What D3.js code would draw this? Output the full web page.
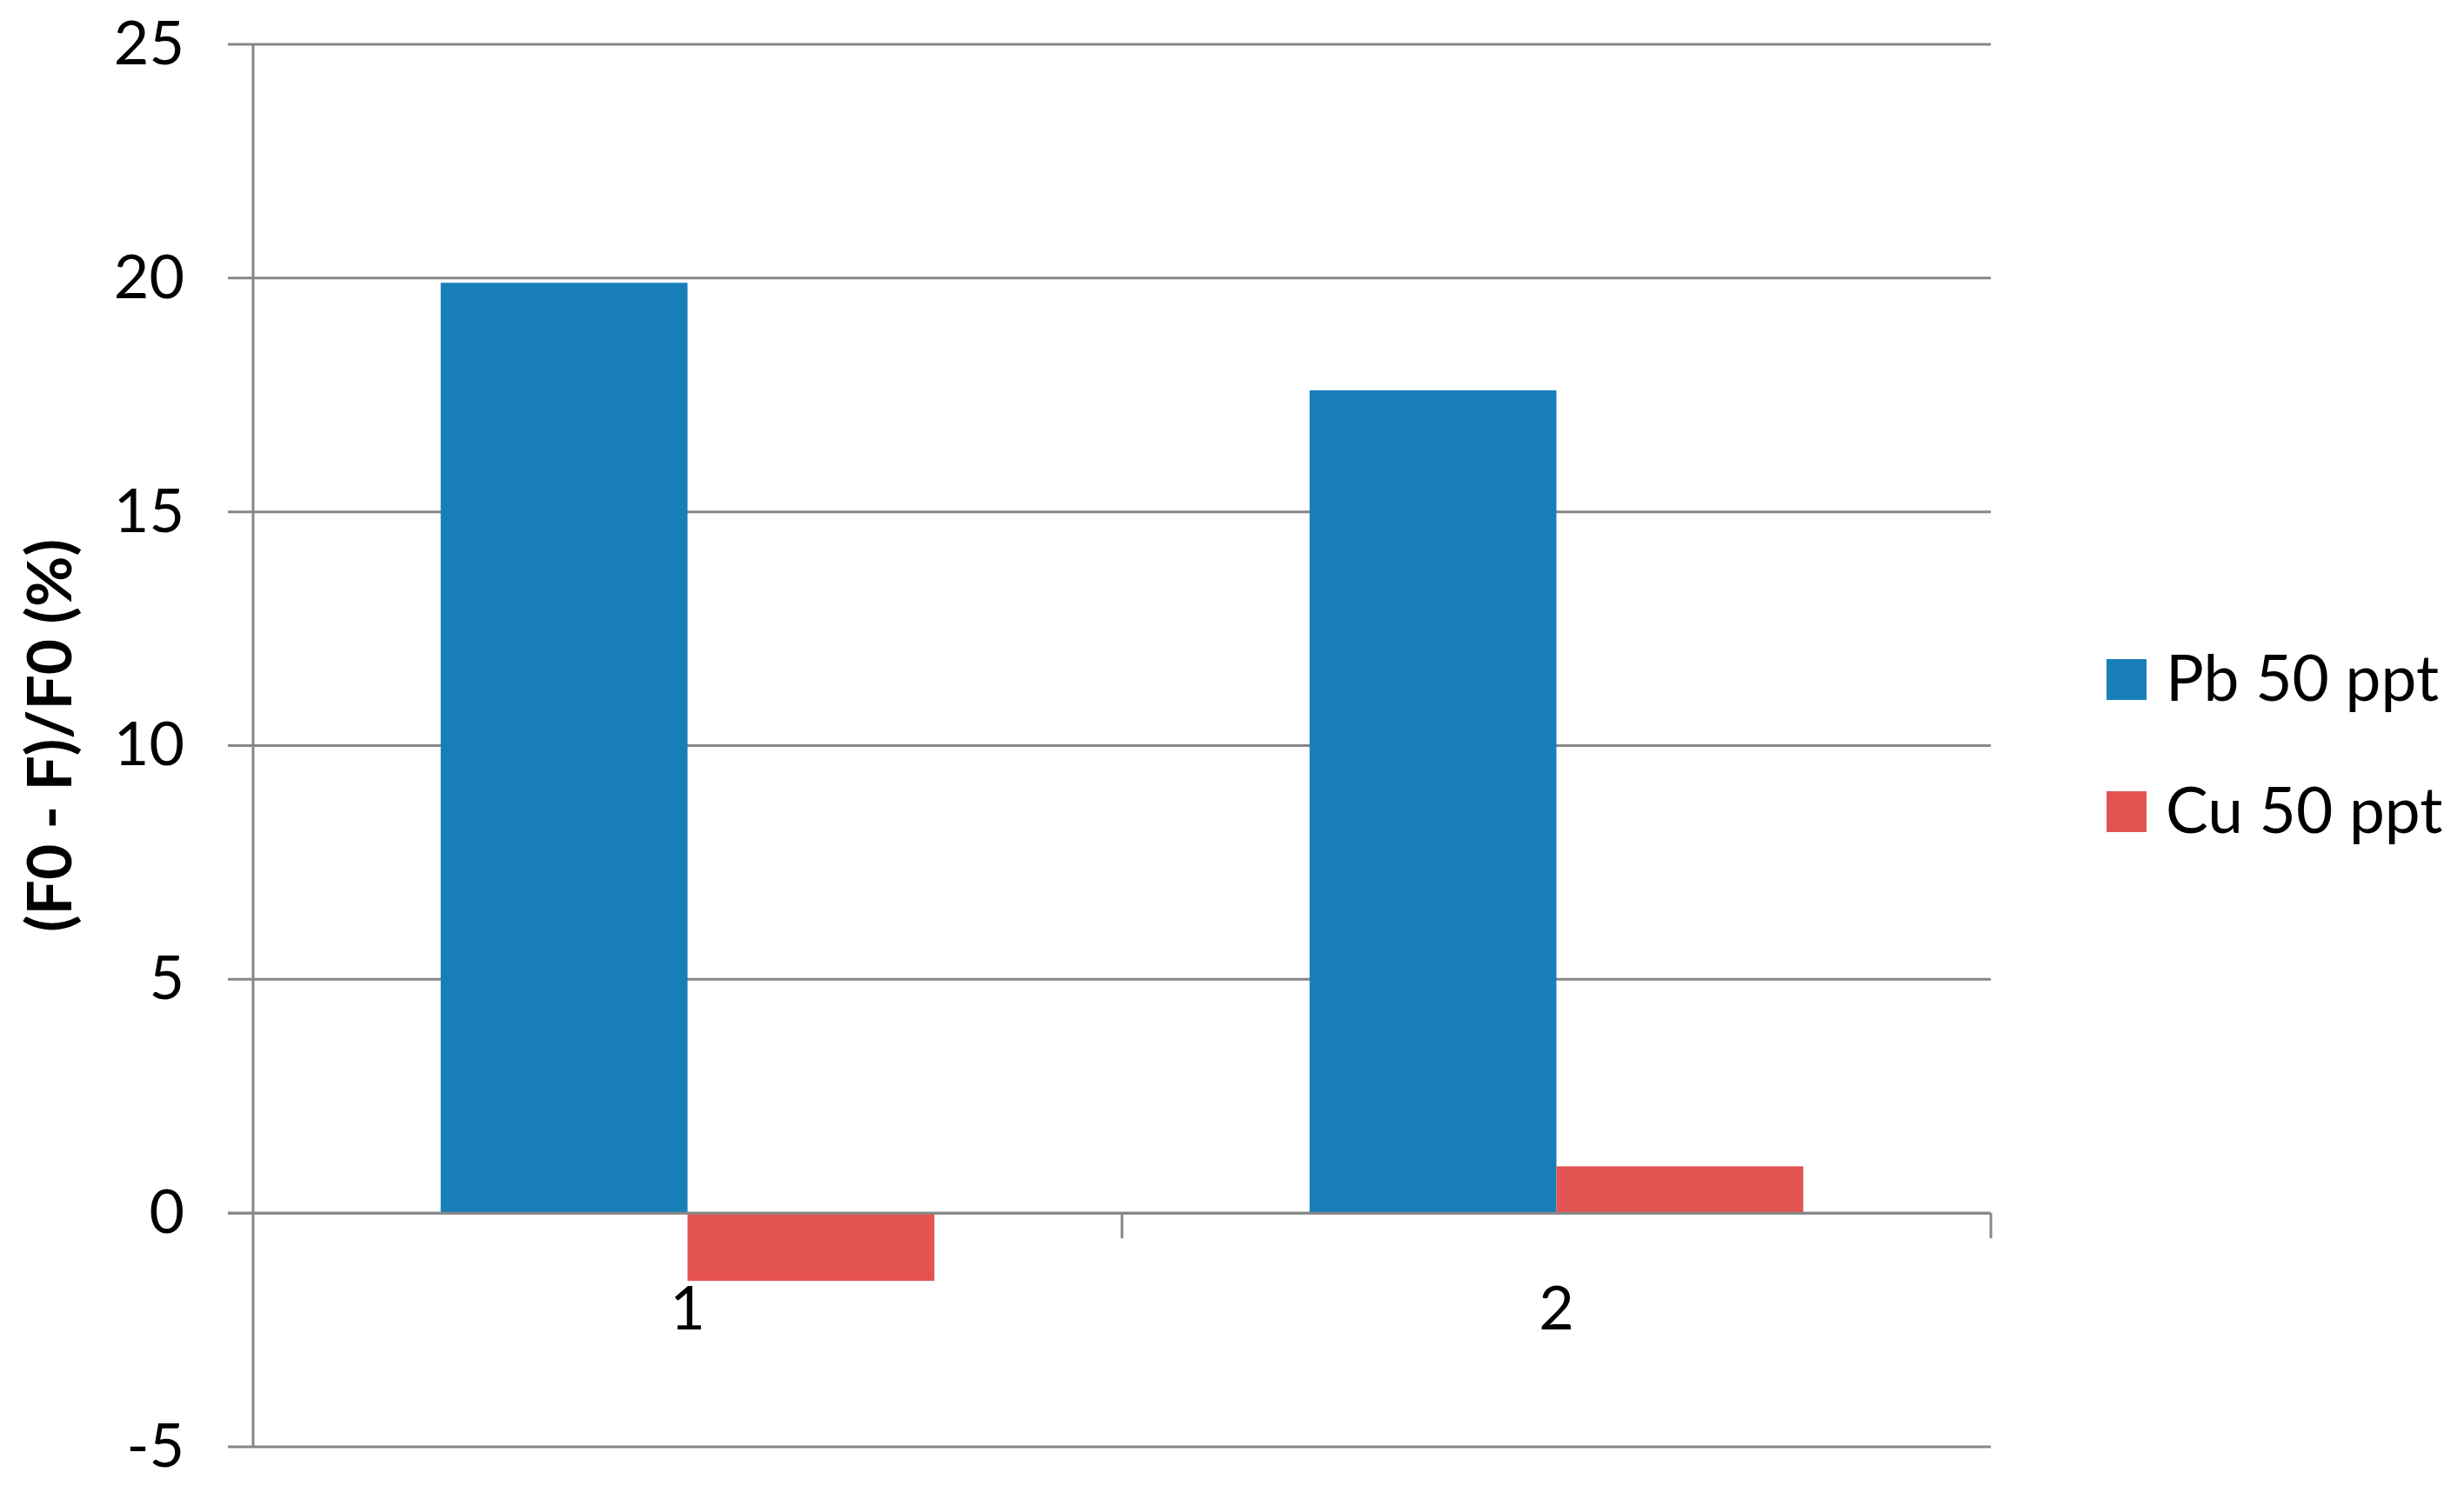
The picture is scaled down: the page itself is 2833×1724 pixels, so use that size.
<!DOCTYPE html>
<html>
<head>
<meta charset="utf-8">
<script src="https://cdn.jsdelivr.net/npm/d3@7"></script>
<style>
  html, body { margin: 0; padding: 0; background: #fff; }
  svg { display: block; }
  text { font-family: Lato, "Open Sans", sans-serif; fill: #000; }
</style>
</head>
<body>
<script>
const categories = ["1", "2"];
const seriesNames = ["Pb 50 ppt", "Cu 50 ppt"];
const pbValues = [19.9, 17.6];
const cuValues = [-1.45, 1.0];
const yTicks = [-5, 0, 5, 10, 15, 20, 25];
const yTitle = "(F0 - F)/F0 (%)";
const colors = ["#187EBA", "#E35351"];

const W = 2833, H = 1724;
const plotLeft = 291, plotRight = 2289, plotTop = 51, plotBottom = 1664;

const svg = d3.select("body").append("svg").attr("width", W).attr("height", H);

const y = d3.scaleLinear().domain([-5, 25]).range([plotBottom, plotTop]);
const x0 = d3.scaleBand().domain(categories).range([plotLeft, plotRight]).paddingInner(0).paddingOuter(0);
const x1 = d3.scaleBand().domain(seriesNames).range([0, x0.bandwidth()]).paddingInner(0).paddingOuter(0.76);

const gridColor = "#878787";

// gridlines (with left tick stubs)
svg.append("g").selectAll("line").data(yTicks).join("line")
  .attr("x1", plotLeft - 29).attr("x2", plotRight)
  .attr("y1", d => y(d)).attr("y2", d => y(d))
  .attr("stroke", gridColor).attr("stroke-width", 3);

// bars
const data = categories.map((c, i) => ({ cat: c, vals: [
  { s: seriesNames[0], v: pbValues[i], c: colors[0] },
  { s: seriesNames[1], v: cuValues[i], c: colors[1] }
]}));

const groups = svg.append("g").selectAll("g").data(data).join("g")
  .attr("transform", d => `translate(${x0(d.cat)},0)`);
groups.selectAll("rect").data(d => d.vals).join("rect")
  .attr("x", d => x1(d.s))
  .attr("width", x1.bandwidth())
  .attr("y", d => Math.min(y(d.v), y(0)))
  .attr("height", d => Math.abs(y(d.v) - y(0)))
  .attr("fill", d => d.c);

// zero line on top
svg.append("line").attr("x1", plotLeft - 29).attr("x2", plotRight)
  .attr("y1", y(0)).attr("y2", y(0)).attr("stroke", gridColor).attr("stroke-width", 3);

// vertical axis line
svg.append("line").attr("x1", plotLeft).attr("x2", plotLeft)
  .attr("y1", plotTop).attr("y2", plotBottom).attr("stroke", gridColor).attr("stroke-width", 3);

// category boundary ticks
const boundaries = categories.map(c => x0(c) + x0.bandwidth());
svg.append("g").selectAll("line").data(boundaries).join("line")
  .attr("x1", d => d).attr("x2", d => d)
  .attr("y1", y(0)).attr("y2", y(0) + 29)
  .attr("stroke", gridColor).attr("stroke-width", 3);

// y axis labels
const yAxis = svg.append("g").attr("transform", `translate(${plotLeft},0)`)
  .call(d3.axisLeft(y).tickValues(yTicks).tickSize(0).tickPadding(79).tickFormat(d => String(d)));
yAxis.select(".domain").remove();
yAxis.selectAll("text").style("font-size", "70px").style("font-family", "Lato, sans-serif").attr("fill", "#000");

// x axis labels
const xAxis = svg.append("g").attr("transform", `translate(0,${y(0)})`)
  .call(d3.axisBottom(x0).tickSize(0).tickPadding(84));
xAxis.select(".domain").remove();
xAxis.selectAll("text").style("font-size", "70px").style("font-family", "Lato, sans-serif").attr("fill", "#000");

// y title
svg.append("text")
  .attr("transform", `translate(82,846) rotate(-90)`)
  .attr("text-anchor", "middle")
  .style("font-size", "70px").style("font-weight", "bold")
  .attr("textLength", 452).attr("lengthAdjust", "spacingAndGlyphs")
  .text(yTitle);

// legend
const legend = svg.append("g").selectAll("g").data(seriesNames).join("g")
  .attr("transform", (d, i) => `translate(2422,${758 + i * 152})`);
legend.append("rect").attr("width", 46).attr("height", 47).attr("fill", (d, i) => colors[i]);
legend.append("text").attr("x", 68).attr("y", 48)
  .style("font-size", "73px").text(d => d);
</script>
</body>
</html>
